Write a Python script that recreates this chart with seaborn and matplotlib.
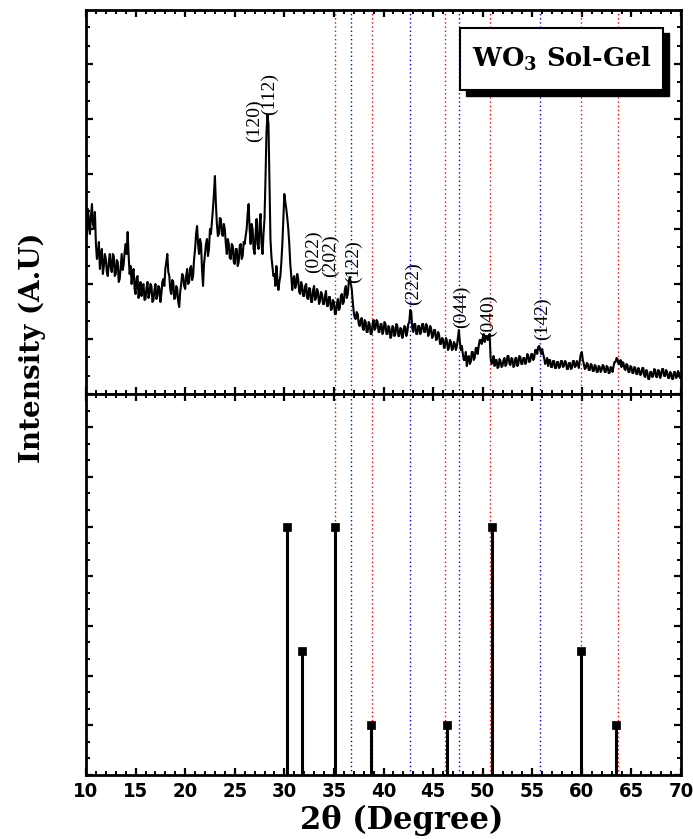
import numpy as np
import pandas as pd
import matplotlib
matplotlib.use("Agg")
import matplotlib.pyplot as plt
from matplotlib.ticker import MultipleLocator
from matplotlib.patches import Rectangle
import seaborn as sns

# ---------------- data ----------------
two_theta = np.round(np.arange(10.0, 70.001, 0.1), 1)
intensity = [
    170, 158, 185, 172, 160, 178, 190, 170, 165, 182, 150, 135, 140, 152, 125, 138, 145, 120, 128, 140,
    135, 122, 118, 132, 140, 126, 122, 140, 138, 118, 120, 134, 132, 112, 115, 128, 140, 124, 130, 142,
    150, 140, 162, 138, 120, 128, 110, 122, 125, 105, 100, 116, 118, 96, 105, 112, 98, 108, 110, 94,
    95, 106, 112, 96, 100, 110, 108, 92, 94, 104, 110, 95, 98, 108, 106, 92, 100, 112, 115, 108,
    125, 132, 140, 122, 118, 104, 100, 114, 112, 95, 96, 108, 105, 92, 87, 102, 110, 120, 118, 108,
    105, 118, 125, 110, 112, 126, 128, 114, 118, 135, 145, 160, 168, 150, 140, 155, 150, 125, 108, 130,
    140, 150, 155, 138, 145, 165, 160, 172, 185, 200, 218, 190, 170, 158, 160, 176, 175, 160, 158, 170,
    165, 150, 140, 155, 150, 136, 135, 150, 148, 132, 130, 145, 145, 128, 132, 148, 150, 135, 138, 152,
    150, 158, 165, 180, 190, 165, 150, 170, 165, 145, 140, 160, 175, 150, 145, 168, 180, 150, 140, 160,
    175, 215, 262, 279, 270, 215, 155, 137, 128, 118, 120, 108, 128, 115, 104, 112, 118, 132, 150, 175,
    200, 192, 185, 176, 165, 150, 130, 118, 104, 115, 118, 106, 110, 120, 115, 102, 100, 112, 108, 98,
    98, 108, 110, 96, 95, 106, 105, 92, 92, 104, 108, 94, 96, 105, 102, 90, 93, 102, 100, 90,
    90, 98, 103, 88, 88, 97, 97, 84, 85, 94, 92, 80, 80, 90, 95, 84, 86, 98, 100, 90,
    92, 104, 108, 96, 100, 112, 117, 110, 105, 92, 82, 76, 75, 82, 80, 70, 68, 74, 76, 66,
    64, 74, 72, 62, 62, 72, 70, 60, 60, 70, 74, 64, 66, 74, 72, 62, 62, 70, 70, 60,
    63, 72, 70, 60, 60, 68, 66, 56, 58, 68, 67, 58, 60, 70, 68, 58, 58, 66, 65, 56,
    60, 68, 67, 58, 62, 70, 72, 84, 82, 66, 62, 70, 70, 60, 60, 68, 68, 60, 62, 70,
    70, 62, 62, 70, 68, 58, 60, 68, 66, 56, 58, 64, 64, 54, 55, 62, 60, 50, 50, 56,
    55, 46, 48, 56, 53, 44, 46, 54, 52, 44, 45, 52, 50, 44, 48, 56, 64, 52, 44, 48,
    40, 34, 34, 42, 28, 36, 38, 30, 32, 42, 42, 34, 36, 46, 46, 40, 48, 54, 54, 50,
    56, 60, 52, 58, 58, 54, 55, 60, 36, 30, 32, 38, 28, 34, 34, 26, 27, 35, 33, 27,
    28, 34, 36, 28, 30, 38, 38, 30, 29, 36, 35, 27, 28, 36, 36, 28, 30, 38, 37, 30,
    30, 36, 36, 30, 32, 40, 38, 32, 33, 40, 40, 34, 36, 44, 44, 40, 47, 48, 44, 40,
    45, 40, 36, 30, 32, 36, 28, 34, 34, 27, 27, 33, 33, 26, 26, 32, 32, 26, 27, 33,
    33, 27, 28, 33, 32, 25, 25, 31, 31, 25, 26, 33, 33, 27, 28, 33, 30, 26, 34, 40,
    42, 34, 30, 25, 26, 31, 30, 24, 24, 30, 29, 23, 23, 29, 28, 22, 22, 28, 27, 22,
    24, 29, 28, 22, 22, 28, 27, 21, 21, 27, 26, 22, 28, 32, 32, 36, 35, 30, 30, 34,
    27, 32, 31, 25, 24, 30, 29, 22, 22, 28, 27, 21, 21, 27, 26, 20, 20, 26, 24, 19,
    20, 26, 26, 18, 17, 24, 22, 15, 15, 22, 22, 17, 18, 25, 24, 17, 17, 24, 23, 16,
    19, 25, 25, 18, 18, 24, 22, 16, 16, 22, 21, 15, 15, 22, 22, 16, 17, 23, 21, 16,
    18,
]

peak_labels = ["(120)", "(112)", "(022)", "(202)", "(122)", "(222)", "(044)", "(040)", "(142)"]
peak_label_x = [27.0, 28.55, 32.9, 34.7, 36.95, 43.0, 47.9, 50.6, 56.0]
peak_label_y = [252, 279, 121, 117, 111, 89, 66, 57, 54]

ref_pos = [30.3, 31.8, 35.15, 38.75, 46.45, 50.95, 59.9, 63.45]
ref_int = [100, 50, 100, 20, 20, 100, 50, 20]

red_lines = [35.1, 38.8, 46.2, 50.75, 59.9, 63.6]
blue_lines = [36.7, 42.7, 47.6, 55.8]

# ---------------- style ----------------
sns.set_theme(style="ticks")
plt.rcParams.update({
    "font.family": ["DejaVu Serif"],
    "mathtext.fontset": "dejavuserif",
    "text.color": "black",
    "axes.labelcolor": "black",
    "axes.edgecolor": "black",
    "xtick.color": "black",
    "ytick.color": "black",
    "axes.linewidth": 2.0,
    "xtick.direction": "in",
    "ytick.direction": "in",
    "xtick.major.size": 5,
    "xtick.minor.size": 3,
    "ytick.major.size": 5,
    "ytick.minor.size": 3,
    "xtick.major.width": 1.6,
    "xtick.minor.width": 1.4,
    "ytick.major.width": 1.6,
    "ytick.minor.width": 1.4,
    "xtick.top": True,
    "ytick.right": True,
})

fig = plt.figure(figsize=(6.93, 8.39), dpi=100)
W, H = 693, 839
ax1 = fig.add_axes([86 / W, 1 - 394 / H, 595 / W, 384 / H])
ax2 = fig.add_axes([86 / W, 1 - 775 / H, 595 / W, 381 / H], sharex=ax1)

df = pd.DataFrame({"two_theta": two_theta, "intensity": intensity})
sns.lineplot(data=df, x="two_theta", y="intensity", ax=ax1, color="black", lw=1.5)

# reference stick pattern
ax2.vlines(ref_pos, 0, ref_int, color="black", lw=2.2, zorder=4)
sns.scatterplot(x=ref_pos, y=ref_int, ax=ax2, marker="s", s=40, color="black",
                edgecolor="black", linewidth=0.5, zorder=5)

for ax in (ax1, ax2):
    for xv in red_lines:
        ax.axvline(xv, color="red", lw=1.0, ls=(0, (1, 2)), zorder=1)
    for xv in blue_lines:
        ax.axvline(xv, color="blue", lw=1.0, ls=(0, (1, 2)), zorder=1)
    ax.set_xlim(10, 70)
    ax.xaxis.set_major_locator(MultipleLocator(5))
    ax.xaxis.set_minor_locator(MultipleLocator(1))
    ax.tick_params(which="both", top=True, right=True, labelleft=False, colors="black")
    ax.set_ylabel("")
    ax.set_xlabel("")

ax1.set_ylim(0, 384)
ax1.yaxis.set_major_locator(MultipleLocator(55))
ax1.yaxis.set_minor_locator(MultipleLocator(55 / 3))
ax1.tick_params(labelbottom=False)

ax2.set_ylim(0, 153.33)
ax2.yaxis.set_major_locator(MultipleLocator(20))
ax2.yaxis.set_minor_locator(MultipleLocator(20 / 3))
ax2.tick_params(axis="x", pad=5)
for lab in ax2.get_xticklabels():
    lab.set_fontfamily(["DejaVu Sans"])
    lab.set_fontstretch("condensed")
    lab.set_fontweight("bold")
    lab.set_fontsize(14.5)
    lab.set_color("black")

# peak labels
for txt, xv, yv in zip(peak_labels, peak_label_x, peak_label_y):
    ax1.text(xv, yv, txt, rotation=90, ha="center", va="bottom", color="black",
             fontsize=14, family=["Liberation Serif", "DejaVu Serif"])

# title box with shadow
ax1.add_patch(Rectangle((0.639, 0.776), 0.340, 0.164, transform=ax1.transAxes,
                        facecolor="black", edgecolor="black", zorder=6))
ax1.add_patch(Rectangle((0.6286, 0.792), 0.341, 0.161, transform=ax1.transAxes,
                        facecolor="white", edgecolor="black", lw=1.5, zorder=7))
ax1.text(0.799, 0.872, r"WO$_{\mathbf{3}}$ Sol-Gel", transform=ax1.transAxes,
         ha="center", va="center", fontsize=18.5, fontweight="bold", color="black", zorder=8)

fig.text(0.046, 0.585, "Intensity (A.U)", rotation=90, ha="center", va="center",
         fontsize=20, fontweight="bold", color="black")
fig.text(0.58, 0.022, "2θ (Degree)", ha="center", va="center",
         fontsize=22, fontweight="bold", color="black")

fig.savefig("out.png", dpi=100)
